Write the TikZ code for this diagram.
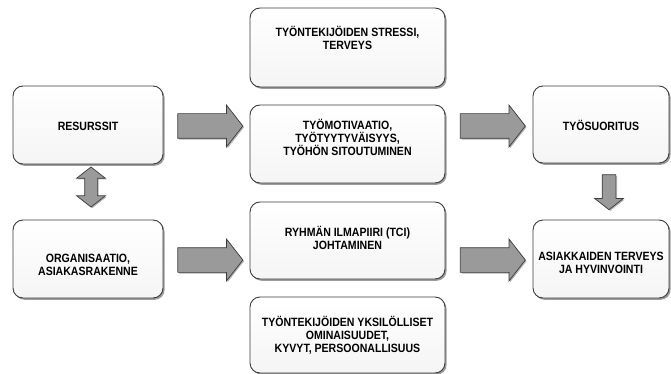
\documentclass[tikz,border=0pt]{standalone}
\usepackage{fontspec}
\setmainfont{Liberation Sans}[FakeStretch=0.88]
\usetikzlibrary{shapes.arrows,shadows,calc}

\definecolor{boxline}{HTML}{3C3C3C}
\definecolor{arrowfill}{HTML}{9A9A9A}

\tikzset{
  stage/.style={draw=boxline,line width=.9pt,rounded corners=10pt,
    top color=white,bottom color=black!4,
    drop shadow={shadow xshift=1.6pt,shadow yshift=-1.8pt,fill=black!55,opacity=.7},
    inner sep=0pt},
  lbl/.style={font=\fontsize{12}{13}\selectfont\bfseries,align=center,inner sep=0pt},
  blockarrow/.style={draw=boxline,line width=.7pt,fill=arrowfill,
    drop shadow={shadow xshift=1.2pt,shadow yshift=-1.2pt,fill=black!50,opacity=.6},
    inner xsep=0pt,inner ysep=12pt,single arrow head extend=8.5pt,
    single arrow tip angle=104,single arrow head indent=0pt},
  harrow/.style={blockarrow,shape=single arrow,minimum height=65pt},
}

\begin{document}
\begin{tikzpicture}[x=1pt,y=-1pt]
\useasboundingbox[fill=white] (0,0) rectangle (671,374);

\node[stage,minimum width=150pt,minimum height=78pt] (res) at (88,125) {};
\node[stage,minimum width=150pt,minimum height=78pt] (org) at (88,259) {};
\node[stage,minimum width=195pt,minimum height=79pt] (stress) at (347.5,47.5) {};
\node[stage,minimum width=195pt,minimum height=78pt] (mot) at (347.5,144) {};
\node[stage,minimum width=195pt,minimum height=77pt] (tci) at (347.5,240.5) {};
\node[stage,minimum width=195pt,minimum height=76pt] (yks) at (347.5,335) {};
\node[stage,minimum width=136pt,minimum height=77pt] (suor) at (601,124.5) {};
\node[stage,minimum width=136pt,minimum height=78pt] (asiak) at (601,259) {};

\node[lbl] (res-t) at (88,126) {RESURSSIT};
\node[lbl] (org-t) at (88,265) {ORGANISAATIO,\\ASIAKASRAKENNE};
\node[lbl] (stress-t) at (347.5,38) {TYÖNTEKIJÖIDEN STRESSI,\\TERVEYS};
\node[lbl] (mot-t) at (347.5,137) {TYÖMOTIVAATIO,\\TYÖTYYTYVÄISYYS,\\TYÖHÖN SITOUTUMINEN};
\node[lbl] (tci-t) at (347.5,238) {RYHMÄN ILMAPIIRI (TCI)\\JOHTAMINEN};
\node[lbl] (yks-t) at (347.5,335) {TYÖNTEKIJÖIDEN YKSILÖLLISET\\OMINAISUUDET,\\KYVYT, PERSOONALLISUUS};
\node[lbl] (suor-t) at (601,125) {TYÖSUORITUS};
\node[lbl] (asiak-t) at (601,263) {ASIAKKAIDEN TERVEYS\\JA HYVINVOINTI};

\node[harrow] (a1) at (205.5,126) {};
\node[harrow] (a2) at (205.5,260) {};
\node[harrow] (a3) at (488,126) {};
\node[harrow] (a4) at (488,260) {};
\node[blockarrow,shape=single arrow,shape border rotate=270,minimum height=35pt,
  inner xsep=6.5pt,inner ysep=0pt,single arrow head extend=7.5pt] (a5) at (609,189.5) {};
\node[blockarrow,shape=double arrow,shape border rotate=90,minimum height=40pt,
  inner xsep=6pt,inner ysep=0pt,double arrow head extend=8pt,
  double arrow tip angle=104,double arrow head indent=0pt] (a6) at (91,187) {};
\end{tikzpicture}
\end{document}
